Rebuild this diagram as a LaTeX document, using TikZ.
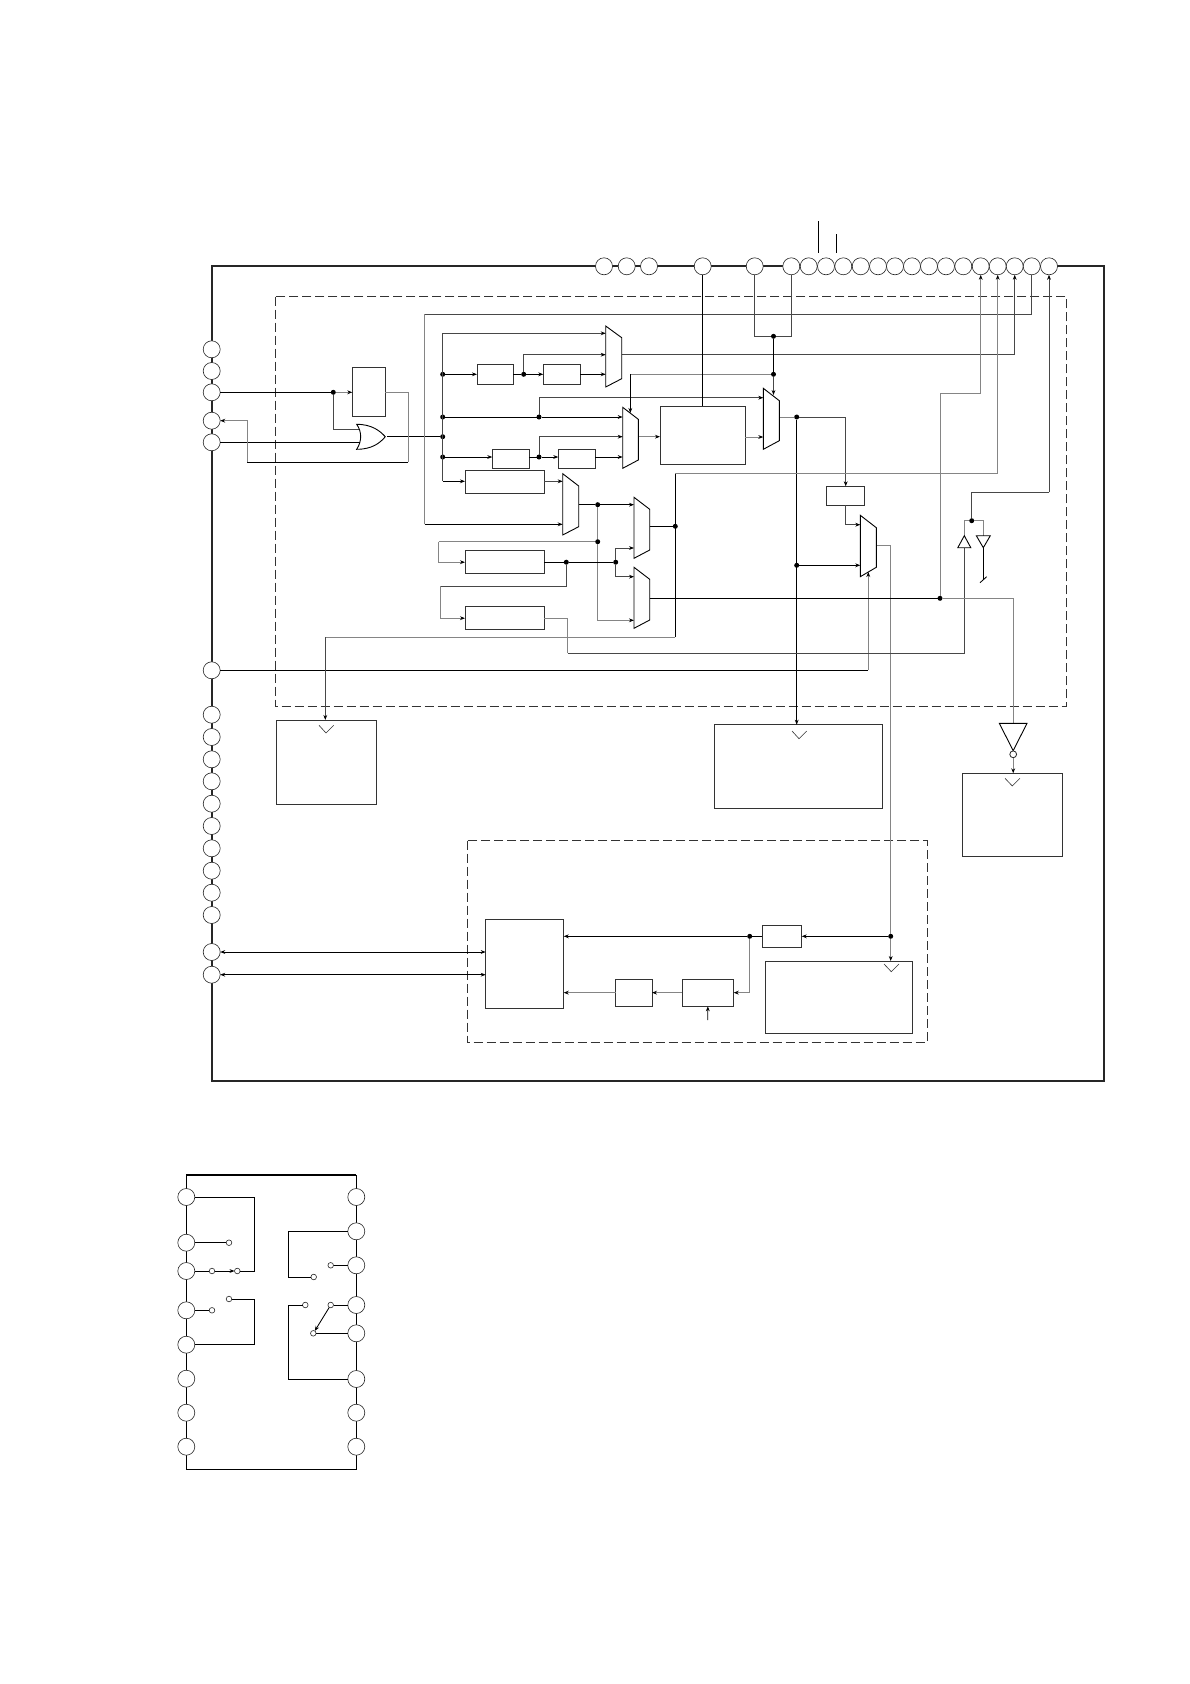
\documentclass[tikz,border=0pt]{standalone}
\usetikzlibrary{arrows.meta,calc}
\tikzset{
  >={Stealth[length=5pt,width=3.8pt,color=black]},
  frameline/.style={draw=black!85,line width=2pt},
  pinn/.style={circle,draw=black!85,fill=white,line width=.6pt,minimum size=17pt,inner sep=0pt,outer sep=0pt},
  spin/.style={circle,draw=black!85,fill=white,line width=.6pt,minimum size=5.6pt,inner sep=0pt,outer sep=0pt},
  boxn/.style={rectangle,draw=black!80,fill=white,line width=1pt,inner sep=0pt,outer sep=0pt},
  dot/.style={circle,fill=black,minimum size=5pt,inner sep=0pt,outer sep=0pt},
  wire/.style={draw=black,line width=.85pt},
  mid/.style={draw=black!72,line width=.8pt},
  lite/.style={draw=black!48,line width=.9pt},
  dashbox/.style={draw=black!80,line width=1pt,dash pattern=on 9pt off 4pt},
  muxs/.style={draw=black,line width=.9pt,line join=miter},
  chev/.style={draw=black!80,line width=.6pt},
}
\newcommand\blockbox[5]{%
  \pgfmathsetmacro\bbw{#4-#2}\pgfmathsetmacro\bbh{#5-#3}%
  \pgfmathsetmacro\bbx{(#2+#4)/2}\pgfmathsetmacro\bby{(#3+#5)/2}%
  \node[boxn,minimum width=\bbw pt,minimum height=\bbh pt] (#1) at (\bbx,\bby) {};}
\newcommand\muxshape[6]{\draw[muxs] (#1,#3) -- (#2,#5) -- (#2,#6) -- (#1,#4) -- cycle;}
\begin{document}
\begin{tikzpicture}[x=1pt,y=-1pt]
\useasboundingbox (0,0) rectangle (1190,1684);
\fill[white] (0,0) rectangle (1190,1684);
% frames
\draw[frameline] (211.7,266.3) rectangle (1104.3,1081.3);
\draw[dashbox] (275.3,296.7) rectangle (1066.7,706.3);
\draw[dashbox] (467,840.7) rectangle (927.3,1042);
% pins
\foreach \n/\x in {T1/604,T2/626.7,T3/649,T4/702.7,T5/754.7,P0/791.3,P1/808.7,P2/826,P3/843.3,P4/860.7,P5/878,P6/895,P7/912,P8/929,P9/946,P10/963.3,P11/980.7,P12/997.7,P13/1014.7,P14/1031.7,P15/1049}
  \node[pinn] (\n) at (\x,266.3) {};
\foreach \n/\y in {L1/349.3,L2/371,L3/392.3,L4/420.7,L5/442.3,L6/670.3,LC/714.7,LD/737,LE/759.3,LF/781.3,LG/803.7,LH/826,LI/848.3,LJ/870.7,LK/892.7,LM/915,LA/952,LB/974.7}
  \node[pinn] (\n) at (211.7,\y) {};
% blocks
\blockbox{bA}{352.3}{367.7}{385.3}{416.3}
\blockbox{bB}{477}{364.3}{513.3}{384.3}
\blockbox{bC}{543.3}{364.3}{580.3}{384.3}
\blockbox{bD}{492.3}{449}{529}{468.3}
\blockbox{bE}{558.3}{449}{595.3}{468.3}
\blockbox{bF}{660}{406}{745.3}{464.3}
\blockbox{bG}{826.7}{486.3}{864.7}{505}
\blockbox{bI}{465}{470.7}{544.3}{493.7}
\blockbox{bJ}{465}{550.7}{544.3}{573.7}
\blockbox{bK}{465}{606.7}{544.3}{629.7}
\blockbox{bL}{276}{720}{376}{804.3}
\blockbox{bH}{714}{724.7}{882}{808.3}
\blockbox{bM}{962.7}{773.3}{1062.3}{856.3}
\blockbox{bN}{485.7}{919.3}{563.7}{1008.3}
\blockbox{bO}{762}{925}{801.7}{947.3}
\blockbox{bP}{682}{979}{733.7}{1006.3}
\blockbox{bQ}{615.7}{979}{652}{1006.3}
\blockbox{bR}{765}{961}{912.3}{1033.3}
% dots
\foreach \n/\x/\y in {dA/333.3/392.3,d1/442.7/374.3,d2/442.7/417,d3/442.7/436.7,d4/442.7/457,d5/523.7/374.3,d6/539/417,d7/539/457,dJ/773.5/336.3,dS/773.5/374.3,d8/796.7/417,d9/796.7/565.3,d10/890.7/936.3,d11/597.7/504.7,d12/597.7/541.7,d13/566.3/562.2,d14/615.7/562.2,d15/675.3/526.3,d16/940/598.3,d17/971.7/520.7,d18/749.7/936.3}
  \node[dot] (\n) at (\x,\y) {};
% connection coordinates
\foreach \n/\x/\y in {orA/359.6/429,orB/360/442.3,orO/387/436.7,c1/408/462.3,c2/247.3/462.3,busT/442.7/333.3,busB/442.7/481.3,
 m1a/605.7/333.3,m1b/605.7/354.7,m1c/605.7/374.3,m1o/621.7/354.7,c6/424.7/314.3,c7/424.7/524.3,
 m2a/622.7/417,m2b/622.7/436.7,m2c/622.7/457,m2s/630.3/413,m2o/638.3/436.7,cS/630.3/374.3,
 m3a/562.7/481.3,m3b/562.7/524.3,m3o/578.7/504.7,
 m4a/763.3/397.7,m4b/763.3/437,m4s/773.5/395,m4o/779.3/417,
 m5a/860.3/524.7,m5b/860.3/565.3,m5o/876.3/545.3,m5s/868.3/572,c8/868.3/670.3,
 m6a/634/504.7,m6b/634/548,m6o/649.7/526.3,m7a/634/576.7,m7b/634/620.3,m7o/649.7/598.3,
 c12/438.7/541.7,c14/440.3/586.3,c15/567.7/653.3,c16/964.3/547.7,c17/675.3/473,c18/675.3/637,c19/325.3/720,
 c20/980.7/393.3,c21/1049/492.3,tuA/964.3/535.7,tdA/983.3/535.7,tdB/983.3/547.7,c22/983.3/580,s1/980/582.7,s2/986.7/576.7,
 invT/1013.3/723.3,c25/707.7/1020,t1a/818.3/221,t1b/818.3/252.7,t2a/836.3/234,t2b/836.3/252.7,cF/745.3/437}
  \coordinate (\n) at (\x,\y);
% top ticks
\draw[wire] (t1a) -- (t1b);
\draw[wire] (t2a) -- (t2b);
% input section
\draw[wire] (L3) -- (dA);
\draw[lite,->] (dA) -- (dA -| bA.west);
\draw[mid] (dA) |- (orA);
\draw[wire] (L5) -- (orB);
\draw[wire] (orO) -- (d3);
\draw[lite] (bA.east |- dA) -| (c1);
\draw[wire] (c1) -- (c2);
\draw[lite,->] (c2) |- (L4);
% bus
\draw[mid] (busT) -- (busB);
\draw[mid,->] (busT) -- (m1a);
\draw[wire,->] (busB) -- (busB -| bI.west);
\draw[wire,->] (d1) -- (d1 -| bB.west);
\draw[wire] (d1 -| bB.east) -- (d5);
\draw[wire,->] (d5) -- (d5 -| bC.west);
\draw[wire,->] (d1 -| bC.east) -- (m1c);
\draw[mid,->] (d5) |- (m1b);
\draw[mid,->] (m1o) -| (P13);
% outer loop
\draw[mid] (P14) |- (c6);
\draw[lite] (c6) -- (c7);
\draw[wire,->] (c7) -- (m3b);
% mux 2 inputs
\draw[wire] (d2) -- (d6);
\draw[wire,->] (d6) -- (m2a);
\draw[mid,->] (d6) |- (m4a);
\draw[wire,->] (d4) -- (d4 -| bD.west);
\draw[wire] (d7 -| bD.east) -- (d7);
\draw[wire,->] (d7) -- (d7 -| bE.west);
\draw[wire,->] (d7 -| bE.east) -- (m2c);
\draw[mid,->] (d7) |- (m2b);
\draw[lite] (dS) -- (cS);
\draw[wire,->] (cS) -- (m2s);
\draw[lite,->] (m2o) -- (m2o -| bF.west);
\draw[wire] (T4) -- (T4 |- bF.north);
% top right
\draw[mid] (T5) |- (dJ);
\draw[mid] (P0) |- (dJ);
\draw[wire] (dJ) -- (dS);
\draw[mid,->] (dS) -- (m4s);
\draw[lite,->] (cF) -- (m4b);
\draw[lite] (m4o) -- (d8);
\draw[mid,->] (d8) -| (bG.north);
\draw[wire,->] (d8) -- (d8 |- bH.north);
\draw[wire,->] (d9) -- (m5b);
\draw[mid,->] (bG.south) |- (m5a);
\draw[lite] (m5o) -| (d10);
\draw[lite,->] (d10) -- (d10 |- bR.north);
\draw[wire] (L6) -- (c8);
\draw[lite,->] (c8) -- (m5s);
% mux 3 and 6/7
\draw[mid,->] (busB -| bI.east) -- (m3a);
\draw[wire] (m3o) -- (d11);
\draw[wire,->] (d11) -- (m6a);
\draw[lite] (d11) -- (d12);
\draw[lite,->] (d12) |- (m7b);
\draw[lite] (d12) -- (c12);
\draw[lite,->] (c12) |- (bJ.west);
\draw[wire] (bJ.east) -- (d13);
\draw[wire] (d13) -- (d14);
\draw[mid,->] (d14) |- (m6b);
\draw[mid,->] (d14) |- (m7a);
\draw[mid] (d13) |- (c14);
\draw[lite,->] (c14) |- (bK.west);
\draw[lite] (bK.east) -| (c15);
\draw[mid] (c15) -| (c16);
\draw[wire] (m6o) -- (d15);
\draw[wire] (c17) -- (c18);
\draw[lite,->] (c17) -| (P12);
\draw[lite] (c18) -- (c18 -| c19);
\draw[mid,->] (c18 -| c19) -- (c19);
\draw[wire] (m7o) -- (d16);
\draw[lite] (d16) -| (invT);
\draw[lite] (d16) |- (c20);
\draw[lite,->] (c20) -- (P11);
\draw[lite] (d17) -| (tuA);
\draw[lite] (d17) -| (tdA);
\draw[mid] (d17) |- (c21);
\draw[mid,->] (c21) -- (P15);
\draw[wire] (tdB) -- (c22);
\draw[wire] (s1) -- (s2);
% bottom section
\draw[wire,<->] (LA) -- (LA -| bN.west);
\draw[wire,<->] (LB) -- (LB -| bN.west);
\draw[wire,->] (d10) -- (d10 -| bO.east);
\draw[wire] (d18 -| bO.west) -- (d18);
\draw[wire,->] (d18) -- (d18 -| bN.east);
\draw[lite,->] (d18) |- (bP.east);
\draw[lite,->] (bP.west) -- (bQ.east);
\draw[lite,->] (bQ.west) -- (bQ.west -| bN.east);
\draw[wire,->] (c25) -- (bP.south);
% muxes
\muxshape{605.7}{621.7}{326}{387}{337.7}{378.7}
\muxshape{622.7}{638.3}{407.3}{468.3}{419.3}{460}
\muxshape{562.7}{578.7}{473.7}{535}{486}{526.7}
\muxshape{763.3}{779.3}{388.3}{449.3}{400.7}{440.7}
\muxshape{860.3}{876.3}{515.3}{576.7}{527.7}{567.3}
\muxshape{634}{649.7}{497.3}{558.3}{509.3}{550}
\muxshape{634}{649.7}{567.3}{628.3}{579.3}{620}
% or gate
\draw[muxs] (356.7,424.3) .. controls (372,424.3) and (380,431) .. (385.3,436.7) .. controls (380,443) and (372,449.3) .. (356.7,449.3) .. controls (362,441) and (362,432) .. (356.7,424.3) -- cycle;
% buffers
\draw[muxs] (964.3,535.7) -- (970.8,547.7) -- (957.8,547.7) -- cycle;
\draw[muxs] (976.3,535.7) -- (990.3,535.7) -- (983.3,547.7) -- cycle;
\draw[muxs] (999.3,723.3) -- (1027,723.3) -- (1013.2,750.7) -- cycle;
\node[spin,line width=.8pt,minimum size=6.8pt] (bub) at (1013.2,754.3) {};
\draw[lite,->] (bub) -- (bub |- bM.north);
% chevrons
\draw[chev] (319,725.3) -- (326,733) -- (333.7,725.3);
\draw[chev] (792,731) -- (799,738.7) -- (806.7,731);
\draw[chev] (1005,778.3) -- (1012.3,786) -- (1020,778.3);
\draw[chev] (884,964) -- (891.3,971.7) -- (899,964);
% small chip
\draw[wire] (186.3,1174.7) -- (186.3,1469.3) -- (356.3,1469.3) -- (356.3,1174.7);
\draw[draw=black,line width=1.8pt] (186.3,1174.7) -- (356.3,1174.7);
\foreach \n/\y in {CLa/1197,CLb/1242.7,CLc/1271,CLd/1310.3,CLe/1344.7,CLf/1378.7,CLg/1412.7,CLh/1446.7}
  \node[pinn] (\n) at (186.3,\y) {};
\foreach \n/\y in {CRa/1197,CRb/1231.3,CRc/1265.3,CRd/1305,CRe/1333.3,CRf/1379,CRg/1412.7,CRh/1446.7}
  \node[pinn] (\n) at (356.3,\y) {};
\foreach \n/\x/\y in {sa/229/1242.7,sb/212/1271,sc/237.3/1271,sd/229/1299,se/212/1310.3,sf/313.7/1277,sg/330.7/1265.3,sh/305.3/1305,si/330.7/1305,sj/313.3/1333.3}
  \node[spin] (\n) at (\x,\y) {};
\foreach \n/\x/\y in {e1/254.3/1271,e2/254.3/1344.7,e3/288.3/1277,e4/288.3/1305}
  \coordinate (\n) at (\x,\y);
\draw[wire] (CLa) -| (e1) -- (sc);
\draw[wire] (CLb) -- (sa);
\draw[wire] (CLc) -- (sb);
\draw[wire,->] (sb) -- (sc);
\draw[wire] (sd) -| (e2) -- (CLe);
\draw[wire] (CLd) -- (se);
\draw[wire] (CRb) -| (e3) -- (sf);
\draw[wire] (CRc) -- (sg);
\draw[wire] (CRf) -| (e4) -- (sh);
\draw[wire] (CRd) -- (si);
\draw[wire] (CRe) -- (sj);
\draw[wire,->] (si) -- (sj);
\end{tikzpicture}
\end{document}
